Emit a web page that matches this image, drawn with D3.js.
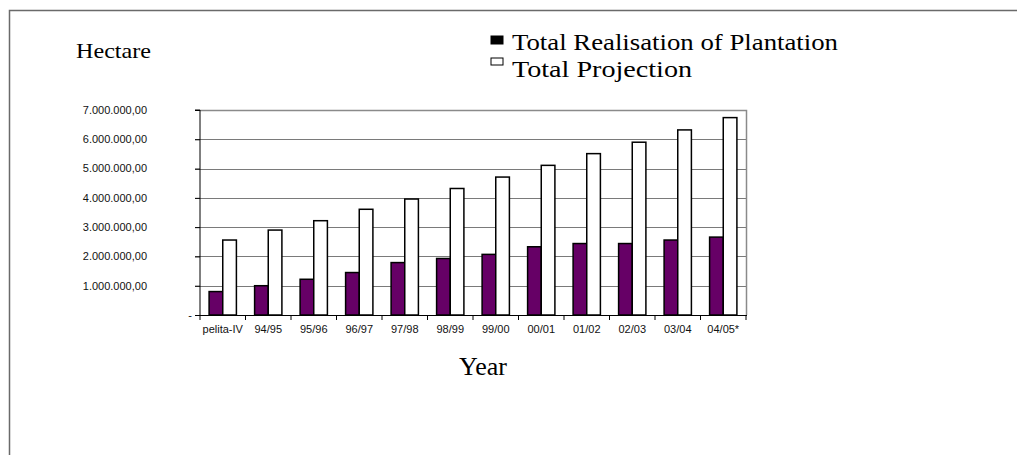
<!DOCTYPE html>
<html>
<head>
<meta charset="utf-8">
<script src="https://cdn.jsdelivr.net/npm/d3@7"></script>
<style>
  html, body { margin: 0; padding: 0; background: #fff; }
  svg { display: block; }
</style>
</head>
<body>
<svg id="chart" width="1017" height="455"></svg>
<script>
// Plantation area per period, in hectare
const categories = ["pelita-IV", "94/95", "95/96", "96/97", "97/98", "98/99", "99/00", "00/01", "01/02", "02/03", "03/04", "04/05*"];
const realisation = [800000, 1000000, 1220000, 1450000, 1790000, 1930000, 2070000, 2330000, 2440000, 2440000, 2560000, 2660000];
const projection = [2560000, 2900000, 3220000, 3610000, 3960000, 4320000, 4710000, 5110000, 5510000, 5900000, 6320000, 6740000];
const yTicks = [0, 1000000, 2000000, 3000000, 4000000, 5000000, 6000000, 7000000];
const seriesNames = ["Total Realisation of Plantation", "Total Projection"];

const svg = d3.select("#chart");

// outer frame
svg.append("rect")
  .attr("x", 9.5).attr("y", 10.5)
  .attr("width", 1030).attr("height", 470)
  .attr("fill", "none").attr("stroke", "#6a6a6a").attr("stroke-width", 1.5);

const plot = { left: 200, right: 746, top: 110, bottom: 315 };

const x = d3.scaleBand().domain(categories).range([plot.left, plot.right]).padding(0);
const y = d3.scaleLinear().domain([0, 7000000]).range([plot.bottom, plot.top]);

// gridlines
svg.append("g").selectAll("line").data(yTicks.filter(d => d > 0)).join("line")
  .attr("x1", plot.left - 5).attr("x2", plot.right)
  .attr("y1", d => Math.round(y(d)) + 0.5).attr("y2", d => Math.round(y(d)) + 0.5)
  .attr("stroke", "#7a7a7a").attr("stroke-width", 1);

// plot frame (top and right in grey)
svg.append("path")
  .attr("d", `M${plot.left},${plot.top + 0.5}H${plot.right + 0.5}V${plot.bottom}`)
  .attr("fill", "none").attr("stroke", "#8a8a8a").attr("stroke-width", 1.5);

// y tick labels
const fmt = v => v === 0 ? "-" : d3.format(",.2f")(v).replace(/,/g, "#").replace(/\./g, ",").replace(/#/g, ".");
svg.append("g").selectAll("text").data(yTicks).join("text")
  .attr("x", d => d === 0 ? 192 : 147)
  .attr("y", d => y(d))
  .attr("dy", "0.35em")
  .attr("text-anchor", "end")
  .attr("font-family", "Arial, 'Liberation Sans', sans-serif")
  .attr("font-size", 11)
  .attr("fill", "#111")
  .text(fmt);

// bars
const bw = x.bandwidth() * 0.3;
const g = svg.append("g");
g.selectAll("rect.real").data(categories).join("rect")
  .attr("class", "real")
  .attr("x", d => x(d) + x.bandwidth() / 2 - bw)
  .attr("y", (d, i) => y(realisation[i]))
  .attr("width", bw)
  .attr("height", (d, i) => y(0) - y(realisation[i]))
  .attr("fill", "#660066").attr("stroke", "#000").attr("stroke-width", 1.5);
g.selectAll("rect.proj").data(categories).join("rect")
  .attr("class", "proj")
  .attr("x", d => x(d) + x.bandwidth() / 2)
  .attr("y", (d, i) => y(projection[i]))
  .attr("width", bw)
  .attr("height", (d, i) => y(0) - y(projection[i]))
  .attr("fill", "#fff").attr("stroke", "#000").attr("stroke-width", 1.5);

// y axis line with outward ticks
const yAxis = d3.axisLeft(y).tickValues(yTicks).tickSize(5).tickFormat("");
svg.append("g").attr("transform", `translate(${plot.left},0)`).call(yAxis)
  .call(s => s.select(".domain").attr("d", `M-5,${plot.top}H0V${plot.bottom}`).attr("stroke", "#000"));

// x axis: ticks between categories
const bounds = categories.map(c => x(c)).concat([plot.right]);
svg.append("line")
  .attr("x1", plot.left - 5).attr("x2", plot.right + 1)
  .attr("y1", plot.bottom + 0.5).attr("y2", plot.bottom + 0.5)
  .attr("stroke", "#000").attr("stroke-width", 1.2);
svg.append("g").selectAll("line").data(bounds).join("line")
  .attr("x1", d => d).attr("x2", d => d)
  .attr("y1", plot.bottom).attr("y2", plot.bottom + 5)
  .attr("stroke", "#000");
svg.append("g").selectAll("text").data(categories).join("text")
  .attr("x", d => x(d) + x.bandwidth() / 2)
  .attr("y", 333)
  .attr("text-anchor", "middle")
  .attr("font-family", "Arial, 'Liberation Sans', sans-serif")
  .attr("font-size", 11)
  .attr("fill", "#111")
  .text(d => d);

// axis titles
const serif = "'Liberation Serif', 'Times New Roman', serif";
svg.append("text").attr("x", 76).attr("y", 58)
  .attr("font-family", serif).attr("font-size", 22)
  .attr("textLength", 75).attr("lengthAdjust", "spacingAndGlyphs")
  .text("Hectare");
svg.append("text").attr("x", 483).attr("y", 375)
  .attr("text-anchor", "middle")
  .attr("font-family", serif).attr("font-size", 26)
  .text("Year");

// legend
const legend = svg.append("g");
const legendY = [50, 77];
legend.selectAll("rect").data(seriesNames).join("rect")
  .attr("x", 491).attr("y", (d, i) => legendY[i] - (i === 0 ? 14 : 19))
  .attr("width", 12).attr("height", (d, i) => i === 0 ? 8 : 7)
  .attr("fill", (d, i) => i === 0 ? "#000" : "#fff")
  .attr("stroke", "#000").attr("stroke-width", 1);
legend.selectAll("text").data(seriesNames).join("text")
  .attr("x", 512).attr("y", (d, i) => legendY[i])
  .attr("font-family", serif).attr("font-size", 24)
  .attr("textLength", (d, i) => i === 0 ? 326 : 180)
  .attr("lengthAdjust", "spacingAndGlyphs")
  .text(d => d);
</script>
</body>
</html>
